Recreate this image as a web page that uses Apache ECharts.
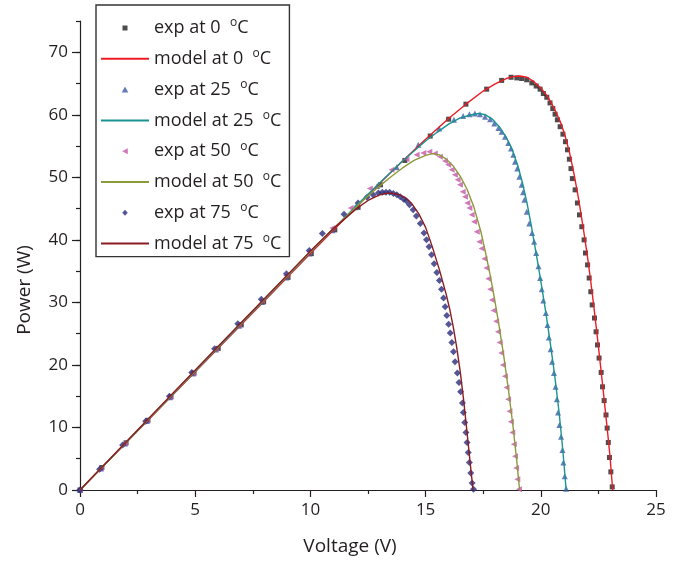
<!DOCTYPE html>
<html>
<head>
<meta charset="utf-8">
<script src="https://cdn.jsdelivr.net/npm/echarts@6/dist/echarts.min.js"></script>
<style>
html,body{margin:0;padding:0;background:#fff;}
#chart{width:679px;height:561px;}
</style>
</head>
<body>
<div id="chart"></div>
<script>
// ---- data (Voltage V, Power W) ----
const seriesNames = ['exp at 0 °C','model at 0 °C','exp at 25 °C','model at 25 °C','exp at 50 °C','model at 50 °C','exp at 75 °C','model at 75 °C'];

const exp0 = [[0,0],[0.95,3.6],[2.0,7.55],[2.95,11.15],[3.95,14.9],[4.95,18.7],[6.0,22.65],[7.0,26.4],[7.97,30.1],[9.03,34.0],[10.04,37.8],[11.06,41.6],[12.07,45.2],[13.04,48.8],[14.1,52.7],[15.2,56.6],[16.0,59.3],[16.75,61.7],[17.65,64.1],[18.3,65.5],[18.71,66.0],[18.96,65.9],[19.17,65.8],[19.39,65.6],[19.61,65.1],[19.8,64.6],[19.97,64.1],[20.11,63.4],[20.26,62.8],[20.4,61.9],[20.52,61.0],[20.62,60.1],[20.72,59.2],[20.84,58.1],[20.96,56.9],[21.07,55.7],[21.16,54.4],[21.24,52.9],[21.31,51.4],[21.37,49.8],[21.49,48.0],[21.59,45.9],[21.68,44.0],[21.78,42.1],[21.88,40.0],[21.94,37.9],[22.03,36.0],[22.1,33.9],[22.17,31.7],[22.23,29.6],[22.33,27.5],[22.4,25.3],[22.46,23.2],[22.53,21.1],[22.62,18.8],[22.68,16.5],[22.75,14.3],[22.83,12.0],[22.88,9.9],[22.93,7.6],[22.98,5.2],[23.04,2.9],[23.1,0.5]];
const model0 = [[0,0],[2,7.56],[4,15.12],[6,22.68],[8,30.24],[10,37.8],[12,45.3],[13,49.0],[14,52.6],[15,56.1],[16,59.4],[16.75,61.7],[17.5,63.8],[18,64.9],[18.5,65.8],[18.8,66.1],[19.1,66.2],[19.4,66.0],[19.7,65.3],[20.0,64.3],[20.3,62.9],[20.6,60.9],[20.85,58.9],[21.05,56.7],[21.25,53.9],[21.45,50.4],[21.65,46.3],[21.85,41.7],[22.0,38.0],[22.15,33.9],[22.3,29.4],[22.45,24.6],[22.6,19.6],[22.75,14.5],[22.9,9.2],[23.0,5.5],[23.12,0]];

const exp25 = [[0,0],[0.9,3.45],[1.95,7.45],[2.9,11.05],[3.9,14.85],[4.9,18.65],[5.9,22.45],[6.9,26.25],[7.9,30.05],[8.95,34.0],[9.95,37.8],[10.95,41.55],[11.95,45.2],[12.9,48.6],[13.75,51.6],[14.68,55.2],[15.59,57.8],[16.23,59.2],[16.63,59.8],[16.9,60.1],[17.14,60.2],[17.36,60.1],[17.58,59.7],[17.8,59.3],[17.98,58.6],[18.16,57.9],[18.3,57.3],[18.45,56.5],[18.59,55.5],[18.71,54.6],[18.81,53.6],[18.88,52.5],[18.98,51.4],[19.07,50.1],[19.17,48.8],[19.23,47.6],[19.29,46.4],[19.39,44.5],[19.5,42.6],[19.62,41.1],[19.71,39.7],[19.8,37.9],[19.9,35.8],[19.97,33.9],[20.04,32.1],[20.11,30.3],[20.22,28.3],[20.29,26.4],[20.35,24.4],[20.43,22.5],[20.49,20.5],[20.57,18.7],[20.64,16.5],[20.7,14.5],[20.75,12.4],[20.81,10.4],[20.88,8.5],[20.94,6.4],[20.98,4.4],[21.04,2.2],[21.1,0.2]];
const model25 = [[0,0],[2,7.6],[4,15.2],[6,22.8],[8,30.4],[10,38.0],[12,45.5],[13,49.1],[14,52.6],[15,55.8],[15.5,57.2],[16,58.5],[16.5,59.5],[17,60.0],[17.3,60.2],[17.6,60.0],[17.9,59.3],[18.2,58.1],[18.5,56.4],[18.75,54.5],[19.0,51.9],[19.2,49.2],[19.4,45.9],[19.6,42.0],[19.8,37.8],[20.0,33.4],[20.2,28.8],[20.4,23.8],[20.6,18.4],[20.8,12.2],[20.95,6.6],[21.1,0]];

const exp50 = [[0,0],[0.9,3.45],[1.95,7.5],[2.9,11.1],[3.9,14.95],[4.9,18.75],[5.9,22.6],[6.9,26.45],[7.9,30.25],[8.95,34.3],[9.95,38.1],[10.95,41.9],[11.75,45.1],[12.58,48.2],[13.52,51.2],[14.17,52.9],[14.61,53.6],[14.9,53.9],[15.16,54.1],[15.4,53.8],[15.62,53.3],[15.84,52.6],[15.98,52.0],[16.13,51.2],[16.27,50.4],[16.39,49.6],[16.49,48.8],[16.61,47.7],[16.71,46.9],[16.81,45.9],[16.9,45.1],[17.0,44.0],[17.1,42.9],[17.22,41.3],[17.33,39.7],[17.43,38.6],[17.55,37.0],[17.64,35.5],[17.72,33.8],[17.8,32.1],[17.88,30.4],[17.95,28.7],[18.06,27.0],[18.14,25.3],[18.21,23.6],[18.28,21.9],[18.35,20.0],[18.44,18.2],[18.51,16.4],[18.58,14.5],[18.64,12.6],[18.7,10.9],[18.76,9.2],[18.83,7.3],[18.88,5.4],[18.93,3.5],[18.98,1.7],[19.05,0.1]];
const model50 = [[0,0],[2,7.64],[4,15.28],[6,22.9],[8,30.5],[10,38.1],[11,41.8],[12,45.3],[12.5,47.0],[13,48.6],[13.5,50.1],[14,51.5],[14.5,52.7],[15.0,53.5],[15.3,53.8],[15.6,53.6],[15.9,52.9],[16.2,51.8],[16.5,50.2],[16.8,48.1],[17.1,45.2],[17.4,41.3],[17.6,38.0],[17.8,34.4],[18.0,30.4],[18.2,26.0],[18.4,21.2],[18.6,15.9],[18.8,10.0],[18.95,4.9],[19.08,0]];

const exp75 = [[0,0],[0.85,3.3],[1.85,7.2],[2.85,11.0],[3.88,15.0],[4.85,18.8],[5.84,22.6],[6.85,26.6],[7.87,30.5],[8.96,34.6],[9.95,38.3],[10.52,41.0],[11.46,44.1],[12.07,45.9],[12.46,46.8],[12.72,47.2],[12.95,47.5],[13.12,47.6],[13.28,47.6],[13.44,47.6],[13.6,47.4],[13.75,47.2],[13.9,46.9],[14.05,46.5],[14.17,46.2],[14.3,45.6],[14.46,44.8],[14.6,43.8],[14.77,42.6],[14.93,41.1],[15.04,40.0],[15.15,38.9],[15.26,37.6],[15.37,36.2],[15.49,34.8],[15.6,33.5],[15.69,32.1],[15.78,30.7],[15.85,29.3],[15.92,27.9],[16.0,26.5],[16.07,25.1],[16.14,23.6],[16.21,22.1],[16.28,20.5],[16.38,18.7],[16.45,17.2],[16.52,15.7],[16.6,13.9],[16.64,12.4],[16.7,10.8],[16.75,9.2],[16.8,7.6],[16.85,6.0],[16.9,4.4],[16.96,2.7],[17.02,1.1],[17.08,0.1]];
const model75 = [[0,0],[2,7.68],[4,15.36],[6,23.0],[8,30.6],[10,38.2],[11,41.8],[12,45.0],[12.5,46.3],[13.0,47.2],[13.4,47.5],[13.8,47.3],[14.1,46.8],[14.4,45.8],[14.7,44.2],[15.0,42.0],[15.3,38.8],[15.6,35.2],[15.9,31.2],[16.06,28.7],[16.2,26.1],[16.35,22.8],[16.5,19.0],[16.65,14.4],[16.8,9.2],[16.93,4.5],[17.06,0]];

const xTickValues = [0,5,10,15,20,25];
const yTickValues = [0,10,20,30,40,50,60,70];

// ---- chart ----
const FONT = 'Open Sans';
const TXT = '#231f20';
const chart = echarts.init(document.getElementById('chart'), null, {renderer:'canvas'});

// legend icons (48 x 6 box, small marker centred)
const legendIcons = [
  'path://M0,0M48,6M21.5,0.5L26.5,0.5L26.5,5.5L21.5,5.5Z',
  'path://M0,0M48,6M24,0L27.3,6L20.7,6Z',
  'path://M0,0M48,6M21.2,3L26.8,0L26.8,6Z',
  'path://M0,0M48,6M24,-0.5L27.2,3L24,6.5L20.8,3Z'
];

function scatterSeries(name, data, symbol, size, color, rotate){
  return {name, type:'scatter', data, symbol, symbolSize:size, symbolRotate:rotate||0,
    symbolKeepAspect:true, itemStyle:{color}, z:2, animation:false};
}
function lineSeries(name, data, color){
  return {name, type:'line', data, showSymbol:false, symbol:'none',
    lineStyle:{color, width:1.4}, itemStyle:{color}, z:3, animation:false};
}

const axisLine = {show:true, lineStyle:{color:TXT, width:1.2}};

const legendData = seriesNames.map(function(n, i){
  if (i % 2 === 0) {
    return {name:n, icon:legendIcons[i/2], symbolRotate:0};
  }
  return {name:n, itemStyle:{opacity:0}};
});

chart.setOption({
  backgroundColor:'#fff',
  animation:false,
  grid:{left:80, right:23, top:21, bottom:71, containLabel:false},
  legend:{
    orient:'vertical', left:96, top:5,
    padding:[12,8,2,4],
    itemWidth:48, itemHeight:6, itemGap:8.8,
    symbolKeepAspect:true, symbolRotate:0,
    borderColor:'#333', borderWidth:1.4,
    data:legendData,
    formatter:function(n){ return n.replace(' °C','  {d|o}C'); },
    textStyle:{fontFamily:FONT, fontSize:18, color:TXT, lineHeight:22,
      rich:{d:{fontFamily:FONT, fontSize:12, color:TXT, verticalAlign:'top', lineHeight:11}}}
  },
  xAxis:{
    type:'value', min:0, max:25, interval:5,
    name:'Voltage (V)', nameLocation:'middle', nameGap:47,
    nameTextStyle:{fontFamily:FONT, fontSize:19, color:TXT, padding:[0,36,0,0]},
    axisLine, axisTick:{show:true, length:7, lineStyle:{color:TXT, width:1.2}},
    minorTick:{show:true, splitNumber:2, length:4, lineStyle:{color:TXT, width:1.2}},
    splitLine:{show:false}, minorSplitLine:{show:false},
    axisLabel:{fontFamily:FONT, fontSize:17, color:TXT, margin:12,
      customValues:xTickValues}
  },
  yAxis:[{
    type:'value', min:0, max:75, interval:5,
    name:'Power (W)', nameLocation:'middle', nameGap:46,
    nameTextStyle:{fontFamily:FONT, fontSize:19, color:TXT, padding:[0,69,0,0]},
    axisLine, axisTick:{show:true, length:4, lineStyle:{color:TXT, width:1.2}},
    splitLine:{show:false},
    axisLabel:{fontFamily:FONT, fontSize:17, color:TXT, margin:12,
      customValues:yTickValues}
  },{
    type:'value', min:0, max:75, interval:10, position:'left',
    axisLine:{show:false},
    axisTick:{show:true, length:8, lineStyle:{color:TXT, width:1.2}, customValues:yTickValues},
    axisLabel:{show:false}, splitLine:{show:false}
  }],
  series:[
    scatterSeries(seriesNames[0], exp0, 'rect', 5, '#231f20'),
    lineSeries(seriesNames[1], model0, '#ed1c24'),
    scatterSeries(seriesNames[2], exp25, 'triangle', 6, '#3d5ba8'),
    lineSeries(seriesNames[3], model25, '#1a9393'),
    scatterSeries(seriesNames[4], exp50, 'triangle', 6, '#c457a8', 90),
    lineSeries(seriesNames[5], model50, '#8c9a3c'),
    scatterSeries(seriesNames[6], exp75, 'diamond', 7, '#2b2c7c'),
    lineSeries(seriesNames[7], model75, '#8b1c22')
  ]
});
</script>
</body>
</html>
